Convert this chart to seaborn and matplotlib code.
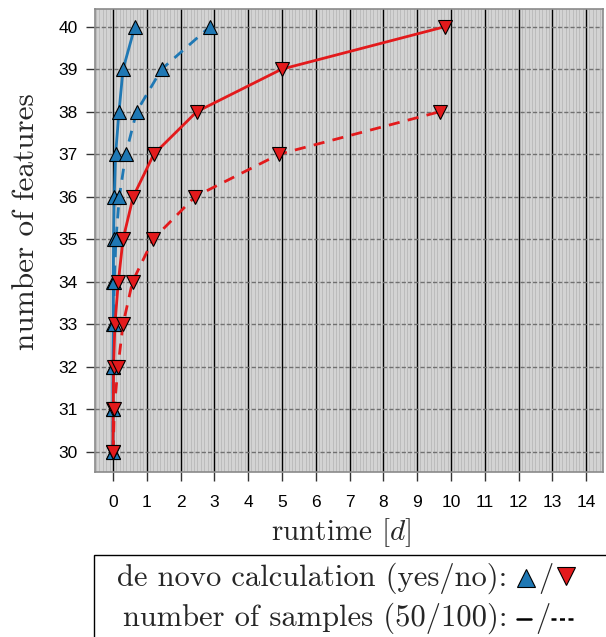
import numpy as np
import pandas as pd
import seaborn as sns
import matplotlib.pyplot as plt
from matplotlib.patches import Rectangle
from matplotlib.ticker import MultipleLocator

# ==============================
# data (runtime in days per number of features)
# ==============================
features = [30, 31, 32, 33, 34, 35, 36, 37, 38, 39, 40]
denovo_50 = [0.0, 0.0, 0.0, 0.01, 0.01, 0.02, 0.04, 0.08, 0.18, 0.30, 0.65]
denovo_100 = [0.0, 0.01, 0.01, 0.02, 0.04, 0.09, 0.19, 0.38, 0.70, 1.44, 2.87]
plain_50 = [0.0, 0.01, 0.02, 0.06, 0.16, 0.30, 0.60, 1.21, 2.48, 4.99, 9.82]
features_plain_100 = [30, 31, 32, 33, 34, 35, 36, 37, 38]
plain_100 = [0.01, 0.04, 0.15, 0.30, 0.58, 1.19, 2.43, 4.92, 9.67]

x_ticks = list(range(0, 15))
y_ticks = list(range(30, 41))

BLUE = "#1f78b4"
RED = "#e31a1c"

sns.set_style("ticks")
plt.rcParams["font.family"] = ["Liberation Sans", "DejaVu Sans"]
plt.rcParams["mathtext.fontset"] = "cm"
plt.rcParams["axes.unicode_minus"] = False

fig = plt.figure(figsize=(6.06, 6.37), dpi=100)
ax = fig.add_axes([95 / 606, 1 - 472 / 637, (603 - 95) / 606, (472 - 9.3) / 637])
ax.set_facecolor("#d3d3d3")

# ==============================
# grid
# ==============================
ax.xaxis.set_minor_locator(MultipleLocator(0.1))
ax.grid(which="minor", axis="x", color="#b8b8b8", lw=0.6, zorder=0)
ax.grid(which="major", axis="x", color="black", lw=1.0, zorder=0)
ax.grid(which="major", axis="y", color="#707070", lw=1.0, ls=(0, (3, 1.5)), zorder=0)
ax.set_axisbelow(True)

# ==============================
# series
# ==============================
series = [
    (denovo_50, features, BLUE, "-", "^"),
    (denovo_100, features, BLUE, (0, (4, 3)), "^"),
    (plain_50, features, RED, "-", "v"),
    (plain_100, features_plain_100, RED, (0, (4, 3)), "v"),
]
for xs, ys, col, ls, mk in series:
    df = pd.DataFrame({"runtime": xs, "features": ys})
    sns.lineplot(data=df, x="runtime", y="features", estimator=None, sort=False,
                 color=col, lw=2.0, ls=ls, ax=ax, zorder=3)
    ax.plot(xs, ys, ls="none", marker=mk, ms=10, mfc=col, mec="black",
            mew=0.8, zorder=4)

ax.set_xlim(-0.53, 14.5)
ax.set_ylim(29.52, 40.41)
ax.set_xticks(x_ticks)
ax.set_yticks(y_ticks)
ax.tick_params(axis="both", which="major", labelsize=12.5, length=6.5,
               width=1, color="#333333", labelcolor="black", direction="out")
ax.tick_params(axis="x", which="major", pad=10)
ax.tick_params(axis="y", which="major", pad=6)
ax.tick_params(axis="x", which="minor", length=0)
ax.set_xlabel("")
ax.set_ylabel("")
for sp in ax.spines.values():
    sp.set_visible(True)
    sp.set_color("#8a8a8a")
    sp.set_linewidth(1.2)

fig.text(26 / 606, 1 - 222 / 637, "number of features", rotation=90,
         ha="center", va="center", family="cmr10", size=22.5)
fig.text(341 / 606, 1 - 533 / 637, "runtime [$d$]",
         ha="center", va="center", family="cmr10", size=21)

# ==============================
# key box at the bottom
# ==============================
fig.patches.append(Rectangle((94 / 606, -0.05), 1.0, (637 - 555) / 637 + 0.05,
                             transform=fig.transFigure, fill=False,
                             ec="black", lw=1.0))
fig.text(507 / 606, 1 - 578 / 637, "de novo calculation (yes/no):",
         ha="right", va="center", family="cmr10", size=22)
fig.text(507 / 606, 1 - 618 / 637, "number of samples (50/100):",
         ha="right", va="center", family="cmr10", size=22)

key = fig.add_axes([0, 0, 1, 1], facecolor="none")
key.set_xlim(0, 606)
key.set_ylim(637, 0)
key.axis("off")
key.plot([526], [578], marker="^", ms=13, mfc=BLUE, mec="black", mew=0.8, ls="none")
key.plot([566], [576], marker="v", ms=13, mfc=RED, mec="black", mew=0.8, ls="none")
key.text(546, 578, "/", ha="center", va="center", family="cmr10", size=22)
key.plot([517, 531], [619, 619], color="black", lw=1.8)
key.text(543, 618, "/", ha="center", va="center", family="cmr10", size=22)
key.plot([551, 574], [619, 619], color="black", lw=1.8, ls=(0, (2, 1.4)))

fig.savefig("out.png", dpi=100)
